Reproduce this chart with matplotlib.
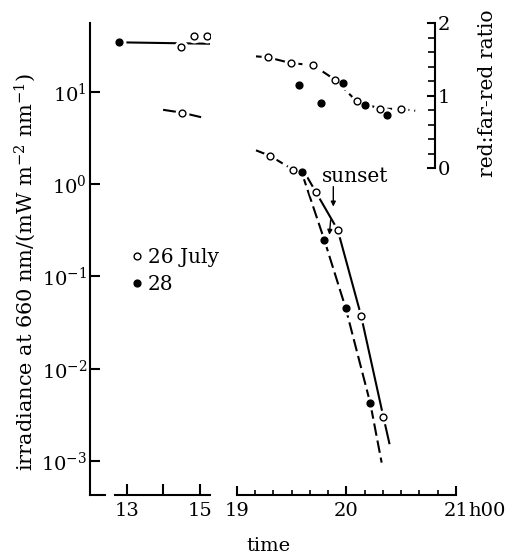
import matplotlib
matplotlib.use('Agg')
import matplotlib.pyplot as plt
from matplotlib.lines import Line2D
from matplotlib.ticker import FixedLocator, NullLocator, MultipleLocator

plt.rcParams['font.family'] = ['DejaVu Serif']
plt.rcParams['mathtext.fontset'] = 'dejavuserif'
plt.rcParams['lines.scale_dashes'] = False

# midday readings (hours), irradiance at 660 nm
noon_t_26 = [14.48, 14.84, 15.18]
noon_irr_26 = [30.5, 40.5, 40.5]
noon_t_28 = [12.80]
noon_irr_28 = [34.5]
noon_line_t = [12.80, 15.30]
noon_line_irr = [34.5, 33.3]
noon_low_t = [14.02, 14.50, 15.00]
noon_low_irr = [6.38, 5.97, 5.36]

# evening irradiance
eve_t_26 = [19.304, 19.516, 19.72, 19.921, 20.134, 20.337]
eve_irr_26 = [2.03, 1.43, 0.83, 0.32, 0.0377, 0.00303]
eve_t_28 = [19.593, 19.799, 19.994, 20.218]
eve_irr_28 = [1.34, 0.249, 0.0454, 0.00424]
dash_t = [19.176, 19.304, 19.516, 19.593, 19.799, 19.994, 20.218, 20.322]
dash_irr = [2.33, 2.03, 1.43, 1.34, 0.249, 0.0454, 0.00424, 0.00096]
solid_t = [19.632, 19.72, 19.921, 20.134, 20.337, 20.392]
solid_irr = [1.26, 0.83, 0.32, 0.0377, 0.00303, 0.00156]

# red:far-red ratio
ratio_t_26 = [19.283, 19.492, 19.699, 19.899, 20.094, 20.307, 20.498]
ratio_26 = [1.527, 1.448, 1.417, 1.214, 0.920, 0.818, 0.814]
ratio_t_28 = [19.568, 19.769, 19.972, 20.167, 20.373]
ratio_28 = [1.141, 0.901, 1.172, 0.873, 0.731]
ratio_line_t = [19.176] + ratio_t_26 + [20.628]
ratio_line = [1.54] + ratio_26 + [0.79]

ytick_vals = [1e-3, 1e-2, 1e-1, 1, 10]
ytick_labels = ['10$^{-3}$', '10$^{-2}$', '10$^{-1}$', '10$^{0}$', '10$^{1}$']

LW = 1.5
DASH = (9, 3.5)
MS = 4.9


def dots(ax, t, v, filled):
    # white halo first so lines break around the markers
    ax.plot(t, v, 'o', ms=9.0, mfc='white', mec='white', mew=1, zorder=3)
    ax.plot(t, v, 'o', ms=MS, mfc='black' if filled else 'white',
            mec='black', mew=1.0, zorder=4)


fig = plt.figure(figsize=(5.07, 5.56), dpi=100)
axl = fig.add_axes([90 / 507, 61 / 556, 120 / 507, 472 / 556])
axr = fig.add_axes([236.7 / 507, 61 / 556, 219.3 / 507, 472 / 556], sharey=axl)

axl.set_yscale('log')
axl.set_ylim(4.28e-4, 55.9)
axl.set_xlim(12.0, 15.27)
axr.set_xlim(19, 21)

# left panel
axl.plot(noon_line_t, noon_line_irr, color='k', lw=LW, zorder=2)
axl.plot(noon_low_t, noon_low_irr, color='k', lw=LW, zorder=2)
dots(axl, noon_t_26, noon_irr_26, False)
dots(axl, noon_t_28, noon_irr_28, True)
dots(axl, [noon_low_t[1]], [noon_low_irr[1]], False)

# right panel irradiance
axr.plot(dash_t, dash_irr, color='k', lw=LW, dashes=DASH, zorder=2)
axr.plot(solid_t, solid_irr, color='k', lw=LW, zorder=2)
dots(axr, eve_t_26, eve_irr_26, False)
dots(axr, eve_t_28, eve_irr_28, True)

# ratio on its own scale
ax2 = axr.twinx()
ax2.set_ylim(-4.51, 2.0)
ax2.plot(ratio_line_t, ratio_line, color='k', lw=LW, dashes=DASH, zorder=2)
dots(ax2, ratio_t_26, ratio_26, False)
dots(ax2, ratio_t_28, ratio_28, True)

# spines
for s in ['top', 'right']:
    axl.spines[s].set_visible(False)
for s in ['top', 'right', 'left']:
    axr.spines[s].set_visible(False)
for s in ['top', 'left', 'bottom']:
    ax2.spines[s].set_visible(False)
for sp in [axl.spines['left'], axl.spines['bottom'], axr.spines['bottom'], ax2.spines['right']]:
    sp.set_linewidth(LW)
axl.spines['bottom'].set_bounds(12.68, 15.27)
axl.plot([0, 0.125], [0, 0], transform=axl.transAxes, color='k', lw=LW,
         clip_on=False, solid_capstyle='projecting')
ax2.spines['right'].set_position(('data', 20.81))
ax2.spines['right'].set_bounds(0, 2)

# ticks
axl.set_yticks(ytick_vals, ytick_labels)
axl.yaxis.set_minor_locator(NullLocator())
axl.tick_params(axis='y', direction='in', length=7.5, width=LW, labelsize=14, pad=2)
axl.set_xticks([13, 14, 15], ['13', '', '15'])
axl.tick_params(axis='x', direction='in', length=8, width=LW, labelsize=14, pad=5)

axr.tick_params(axis='y', left=False, labelleft=False)
axr.set_xticks([19, 20, 21], ['19', '20', '21'])
axr.xaxis.set_minor_locator(MultipleLocator(1 / 6))
axr.tick_params(axis='x', which='major', direction='in', length=6.5, width=LW,
                labelsize=14, pad=5)
axr.tick_params(axis='x', which='minor', direction='in', length=3.3, width=1.2)
axr.annotate('h00', xy=(21, 0), xycoords=('data', 'axes fraction'),
             xytext=(8.9, -5), textcoords='offset points', ha='left', va='top',
             fontsize=14, annotation_clip=False)

ax2.set_yticks([0, 1, 2])
ax2.yaxis.set_minor_locator(FixedLocator([0.2, 0.4, 0.6, 0.8, 1.2, 1.4, 1.6, 1.8]))
ax2.tick_params(axis='y', which='major', direction='in', length=6, width=LW,
                labelsize=14, pad=2)
ax2.tick_params(axis='y', which='minor', direction='in', length=5, width=1.2)

# labels
axl.set_ylabel('irradiance at 660 nm/(mW m$^{-2}$ nm$^{-1}$)', fontsize=15)
axl.yaxis.set_label_coords(-0.433, 0.4735)
ax2.set_ylabel('red:far-red ratio', fontsize=14.6)
ax2.yaxis.set_label_coords(1.10, 0.851)
axr.set_xlabel('time', fontsize=14)
axr.xaxis.set_label_coords(0.147, -0.089)

# sunset arrows
axr.text(19.775, 1.067, 'sunset', fontsize=14.5, ha='left', va='baseline')
arrow = dict(arrowstyle='-|>', lw=1, color='k', shrinkA=0, shrinkB=0, mutation_scale=7)
axr.annotate('', xy=(19.881, 0.572), xytext=(19.881, 0.942), arrowprops=arrow)
axr.annotate('', xy=(19.845, 0.283), xytext=(19.857, 0.410), arrowprops=arrow)

# legend
handles = [Line2D([], [], ls='none', marker='o', ms=MS, mfc='white', mec='k', mew=1.0),
           Line2D([], [], ls='none', marker='o', ms=MS, mfc='k', mec='k', mew=1.0)]
axl.legend(handles, ['26 July', '28'], loc='upper left',
           bbox_to_anchor=(132 / 507, 1 - 248 / 556), bbox_transform=fig.transFigure,
           frameon=False, handlelength=0.5, handletextpad=0.3, labelspacing=0.42,
           borderpad=0, borderaxespad=0, fontsize=14.5)

fig.savefig('out.png', dpi=100)
